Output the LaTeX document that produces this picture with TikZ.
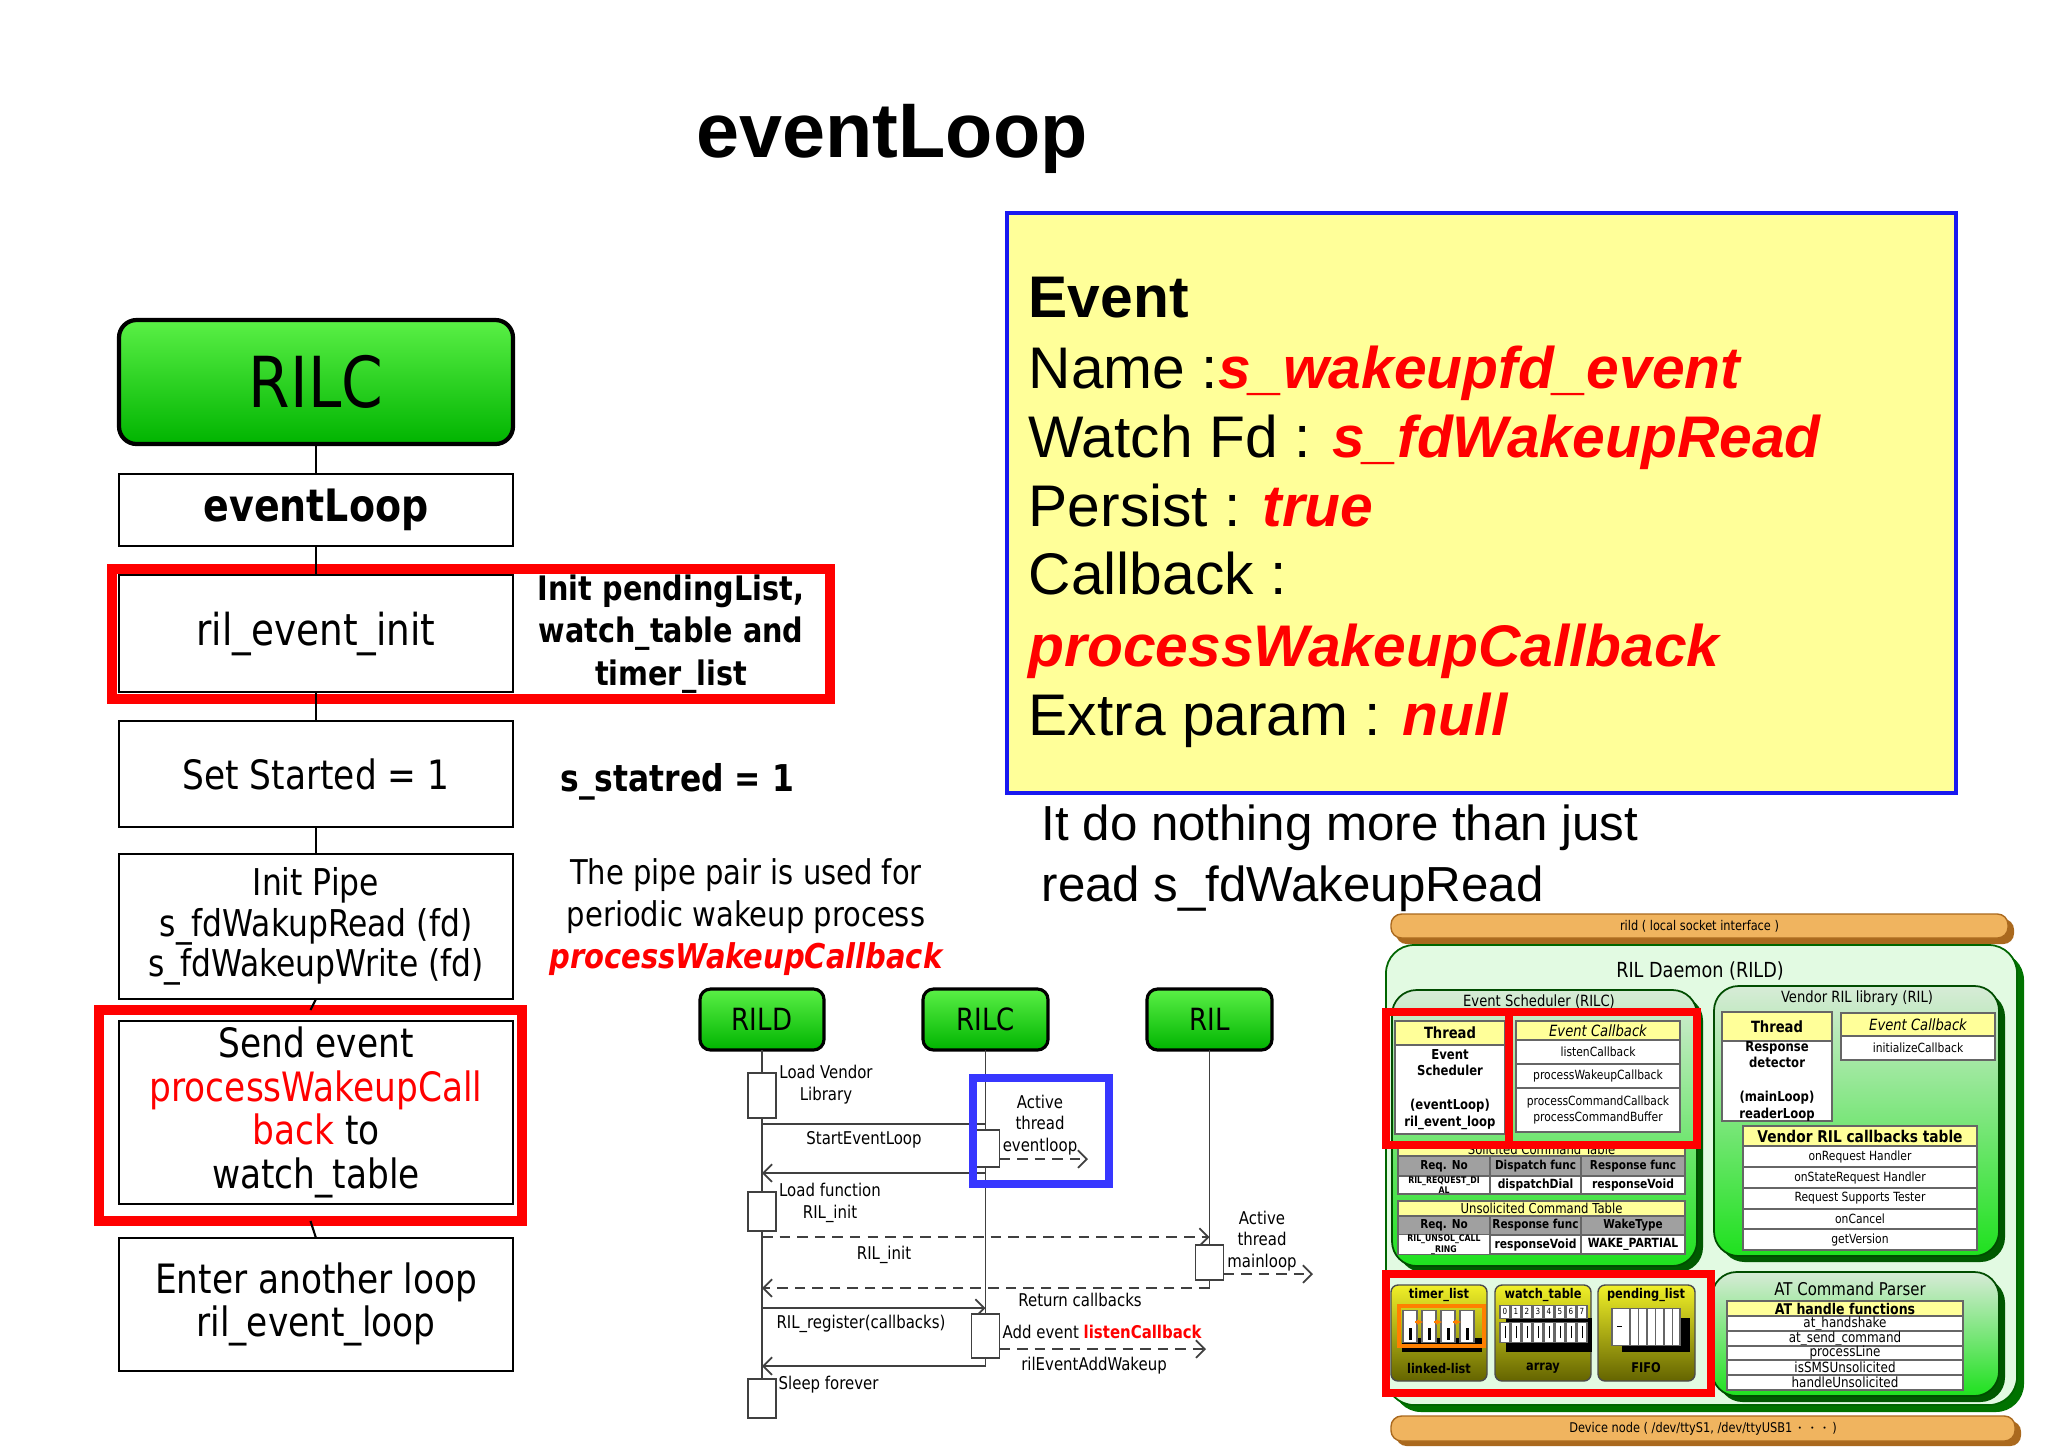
\documentclass[tikz,border=0pt]{standalone}
\usepackage{fontspec}
\setmainfont{DejaVu Sans}
\newfontfamily\cond[FakeStretch=0.85]{DejaVu Sans}
\newfontfamily\arial{Liberation Sans}
\usetikzlibrary{arrows.meta}
\newcommand\sz[2]{\fontsize{#1pt}{#2pt}\selectfont}
\newcommand\rb[1]{{\color{red}\bfseries\itshape #1}}
\definecolor{evyellow}{RGB}{255,255,153}
\definecolor{evblue}{RGB}{25,25,240}
\definecolor{seqblue}{RGB}{55,55,255}
\definecolor{gtop}{RGB}{90,240,70}
\definecolor{gbot}{RGB}{0,180,0}
\definecolor{cellyellow}{RGB}{255,255,153}
\definecolor{cellgray}{RGB}{160,160,160}
\definecolor{barorange}{RGB}{240,180,95}
\definecolor{bardark}{RGB}{170,105,30}
\definecolor{paleg}{RGB}{226,250,226}
\definecolor{boxtop}{RGB}{215,235,215}
\definecolor{boxbot}{RGB}{30,225,30}
\definecolor{oltop}{RGB}{240,240,40}
\definecolor{olbot}{RGB}{100,100,0}
\newcommand\bx[7][]{\pgfmathsetmacro\bxw{(#5-#3)*0.01}\pgfmathsetmacro\bxh{(#6-#4)*0.01}%
\node[inner sep=0pt,outer sep=0pt,minimum width=\bxw cm,minimum height=\bxh cm,#1] (#2) at ({(#3+#5)/2},{(#4+#6)/2}) {#7};}
\begin{document}
\begin{tikzpicture}[x=0.01cm,y=-0.01cm,
  rilcbox/.style={draw=black,line width=1.2pt,rounded corners=5pt,top color=gtop,bottom color=gbot,font=\cond\sz{20}{24}},
  lbox/.style={draw=black,line width=0.6pt,fill=white,align=center,font=\cond\sz{11.5}{12.4}},
  redbox/.style={draw=red,line width=2.8pt},
  evbox/.style={draw=evblue,line width=1.4pt,fill=evyellow},
  evtext/.style={anchor=base west,inner sep=0pt,font=\arial\sz{16.7}{20}},
  hdr/.style={draw=black,line width=0.9pt,rounded corners=3pt,top color=gtop,bottom color=gbot,font=\cond\sz{8.7}{10}},
  life/.style={draw=black!75,line width=0.45pt},
  act/.style={draw=black!75,fill=white,line width=0.45pt},
  msg/.style={draw=black!75,line width=0.5pt},
  barb/.style={-{Straight Barb[length=2.5pt,width=5pt]}},
  dsh/.style={dash pattern=on 3pt off 2pt},
  slab/.style={font=\cond\sz{5}{6.2},align=center,inner sep=0pt},
  bar/.style={rounded corners=3pt,fill=barorange,draw=bardark,line width=0.4pt,font=\cond\sz{3.8}{4.5}},
  bigbox/.style={rounded corners=8pt,fill=paleg,draw=green!40!black,line width=0.5pt},
  ibox/.style={rounded corners=7pt,top color=boxtop,bottom color=boxbot,draw=green!30!black,line width=0.5pt},
  cell/.style={draw=black!60,fill=white,line width=0.35pt,align=center,font=\cond\sz{3.6}{4.3}},
  hcell/.style={cell,fill=cellyellow,font=\cond\bfseries\sz{4.4}{5}},
  gcell/.style={cell,fill=cellgray,font=\cond\bfseries\sz{3.5}{4}},
  store/.style={top color=oltop,bottom color=olbot,draw=black!70,rounded corners=2pt,line width=0.4pt},
  archred/.style={draw=red,line width=2.3pt}]
\useasboundingbox (0,0) rectangle (2048,1447);
\fill[white] (0,0) rectangle (2048,1447);

% title
\node[font=\arial\bfseries\sz{22}{26},anchor=base,inner sep=0pt] (title) at (892,157) {eventLoop};

% left column
\bx[rilcbox]{rilc}{119}{320}{513}{444}{RILC}
\bx[lbox,font=\cond\bfseries\sz{12.7}{14}]{evl}{119}{474}{513}{546}{eventLoop}
\bx[lbox,font=\cond\sz{12.5}{14}]{init}{119}{575}{513}{692}{ril\_event\_init}
\node[font=\cond\bfseries\sz{9.6}{12},align=center] (initnote) at (671,634) {Init pendingList,\\watch\_table and\\timer\_list};
\bx[redbox]{redA}{112}{569}{830}{699}{}
\bx[lbox]{set}{119}{721}{513}{827}{Set Started = 1}
\node[font=\cond\bfseries\sz{10.5}{13},anchor=west] (statred) at (548,782) {s\_statred = 1};
\bx[lbox,font=\cond\sz{10.5}{11.5}]{pipe}{119}{854}{513}{999}{Init Pipe\\s\_fdWakupRead (fd)\\s\_fdWakeupWrite (fd)}
\node[font=\cond\sz{9.7}{12},align=center] (pipenote) at (746,917) {The pipe pair is used for\\periodic wakeup process\\{\color{red}\bfseries\itshape processWakeupCallback}};
\bx[lbox]{send}{119}{1021}{513}{1204}{Send event\\{\color{red}processWakeupCall}\\{\color{red}back} to\\watch\_table}
\bx[redbox]{redB}{99}{1010}{522}{1221}{}
\bx[lbox]{enter}{119}{1238}{513}{1371}{Enter another loop\\ril\_event\_loop}
\draw[line width=0.6pt] (rilc.south) -- (evl.north);
\draw[line width=0.6pt] (evl.south) -- (init.north);
\draw[line width=0.6pt] (init.south) -- (set.north);
\draw[line width=0.6pt] (set.south) -- (pipe.north);
\draw[line width=0.6pt] (pipe.south) -- (redB.north);
\draw[line width=0.6pt] (redB.south) -- (enter.north);

% event box
\bx[evbox]{ev}{1007}{213}{1956}{793}{}
\node[evtext] (ev1) at (1028,317) {\bfseries Event};
\node[evtext] (ev2) at (1028,388) {Name :\rb{s\_wakeupfd\_event}};
\node[evtext] (ev3) at (1028,457) {Watch Fd : \rb{s\_fdWakeupRead}};
\node[evtext] (ev4) at (1028,526) {Persist : \rb{true}};
\node[evtext] (ev5) at (1028,594) {Callback :};
\node[evtext] (ev6) at (1028,666) {\rb{processWakeupCallback}};
\node[evtext] (ev7) at (1028,735) {Extra param : \rb{null}};
\node[anchor=base west,inner sep=0pt,font=\arial\sz{14}{17}] (note1) at (1041,840) {It do nothing more than just};
\node[anchor=base west,inner sep=0pt,font=\arial\sz{14}{17}] (note2) at (1041,901) {read s\_fdWakeupRead};

% sequence diagram
\bx[hdr]{sD}{700}{989}{824}{1050}{RILD}
\bx[hdr]{sC}{923}{989}{1048}{1050}{RILC}
\bx[hdr]{sL}{1147}{989}{1272}{1050}{RIL}
\coordinate (eD) at (762,1379);
\coordinate (eC) at (985.5,1366);
\coordinate (eL) at (1209.5,1288);
\draw[life] (sD.south) -- (eD);
\draw[life] (sC.south) -- (eC);
\draw[life] (sL.south) -- (eL);
\coordinate (m1a) at (762,1124); \coordinate (m1b) at (985.5,1124);
\coordinate (r1a) at (985.5,1173); \coordinate (r1b) at (762,1173);
\coordinate (m2a) at (762,1237); \coordinate (m2b) at (1209.5,1237);
\coordinate (r2a) at (1209.5,1288); \coordinate (r2b) at (762,1288);
\coordinate (m3a) at (762,1308); \coordinate (m3b) at (985.5,1308);
\coordinate (r3a) at (985.5,1366); \coordinate (r3b) at (762,1366);
\coordinate (o1a) at (999.5,1159); \coordinate (o1b) at (1088,1159);
\coordinate (o2a) at (1223.5,1274); \coordinate (o2b) at (1313,1274);
\coordinate (o3a) at (999.5,1349); \coordinate (o3b) at (1206,1349);
\draw[msg] (m1a) -- (m1b);
\draw[msg,barb] (r1a) -- (r1b);
\draw[msg,barb,dsh] (m2a) -- (m2b);
\draw[msg,barb,dsh] (r2a) -- (r2b);
\draw[msg,barb] (m3a) -- (m3b);
\draw[msg,barb] (r3a) -- (r3b);
\bx[act]{aD1}{748}{1073}{776}{1118}{}
\bx[act]{aD2}{748}{1192}{776}{1231}{}
\bx[act]{aD3}{748}{1379}{776}{1418}{}
\bx[act]{aC1}{971.5}{1130}{999.5}{1167}{}
\bx[act]{aC2}{971.5}{1314}{999.5}{1358}{}
\bx[act]{aL1}{1195.5}{1245}{1223.5}{1280}{}
\draw[msg,barb,dsh] (o1a) -- (o1b);
\draw[msg,barb,dsh] (o2a) -- (o2b);
\draw[msg,barb,dsh] (o3a) -- (o3b);
\bx[draw=seqblue,line width=2.3pt]{blueA}{973}{1078}{1109}{1184}{}
\node[slab] (t1) at (826,1085) {Load Vendor\\Library};
\node[slab] (t2) at (864,1140) {StartEventLoop};
\node[slab] (t3) at (1040,1125) {Active\\thread\\eventloop};
\node[slab] (t4) at (830,1203) {Load function\\RIL\_init};
\node[slab] (t5) at (884,1255) {RIL\_init};
\node[slab] (t6) at (1262,1241) {Active\\thread\\mainloop};
\node[slab] (t7) at (1080,1300) {Return callbacks};
\node[slab] (t8) at (861,1324) {RIL\_register(callbacks)};
\node[slab,anchor=west] (t9) at (1002,1332) {Add event {\color{red}\bfseries listenCallback}};
\node[slab] (t10) at (1094,1366) {rilEventAddWakeup};
\node[slab,anchor=west] (t11) at (778,1385) {Sleep forever};

% architecture figure
\fill[bardark,rounded corners=3pt] (1396,919) rectangle (2014,944);
\bx[bar]{topbar}{1391}{914}{2008}{938}{rild ( local socket interface )}
\fill[green!45!black,rounded corners=8pt] (1393,952) rectangle (2024,1412);
\bx[bigbox]{rild}{1386}{945}{2017}{1405}{}
\node[font=\cond\sz{5.9}{7}] (rildt) at (1700,971) {RIL Daemon (RILD)};
% event scheduler
\fill[green!35!black,rounded corners=7pt] (1398,996) rectangle (1703,1272);
\bx[ibox]{es}{1392}{990}{1697}{1266}{}
\node[font=\cond\sz{4.4}{5}] (est) at (1539,1002) {Event Scheduler (RILC)};
\bx[hcell]{th1}{1395}{1021}{1505}{1045}{Thread}
\bx[cell,font=\cond\bfseries\sz{3.9}{4.7}]{th1b}{1395}{1045}{1505}{1134}{Event\\Scheduler\\[5pt](eventLoop)\\ril\_event\_loop}
\bx[hcell,font=\cond\itshape\sz{4.4}{5}]{ec1}{1516}{1021}{1680}{1040}{Event Callback}
\bx[cell]{ec1a}{1516}{1040}{1680}{1064}{listenCallback}
\bx[cell]{ec1b}{1516}{1064}{1680}{1088}{processWakeupCallback}
\bx[cell]{ec1c}{1516}{1088}{1680}{1132}{processCommandCallback\\processCommandBuffer}
\bx[hcell,font=\cond\sz{3.9}{4.5}]{sol}{1398}{1143}{1685}{1156}{Solicited Command Table}
\bx[gcell]{sol1}{1398}{1156}{1490}{1176}{Req. No}
\bx[gcell]{sol2}{1490}{1156}{1581}{1176}{Dispatch func}
\bx[gcell]{sol3}{1581}{1156}{1685}{1176}{Response func}
\bx[cell,font=\cond\bfseries\sz{2.6}{3}]{sol4}{1398}{1176}{1490}{1194}{RIL\_REQUEST\_DI\\AL}
\bx[cell,font=\cond\bfseries\sz{3.6}{4}]{sol5}{1490}{1176}{1581}{1194}{dispatchDial}
\bx[cell,font=\cond\bfseries\sz{3.6}{4}]{sol6}{1581}{1176}{1685}{1194}{responseVoid}
\bx[hcell,font=\cond\sz{3.9}{4.5}]{uns}{1398}{1201}{1685}{1216}{Unsolicited Command Table}
\bx[gcell]{uns1}{1398}{1216}{1490}{1235}{Req. No}
\bx[gcell]{uns2}{1490}{1216}{1581}{1235}{Response func}
\bx[gcell]{uns3}{1581}{1216}{1685}{1235}{WakeType}
\bx[cell,font=\cond\bfseries\sz{2.6}{3}]{uns4}{1398}{1235}{1490}{1254}{RIL\_UNSOL\_CALL\\\_RING}
\bx[cell,font=\cond\bfseries\sz{3.6}{4}]{uns5}{1490}{1235}{1581}{1254}{responseVoid}
\bx[cell,font=\cond\bfseries\sz{3.6}{4}]{uns6}{1581}{1235}{1685}{1254}{WAKE\_PARTIAL}
% vendor ril
\fill[green!35!black,rounded corners=7pt] (1720,992) rectangle (2005,1262);
\bx[ibox]{vr}{1714}{986}{1999}{1256}{}
\node[font=\cond\sz{4.4}{5}] (vrt) at (1857,998) {Vendor RIL library (RIL)};
\bx[hcell]{th2}{1722}{1012}{1832}{1041}{Thread}
\bx[cell,font=\cond\bfseries\sz{3.9}{4.7}]{th2b}{1722}{1041}{1832}{1121}{Response\\detector\\[5pt](mainLoop)\\readerLoop}
\bx[hcell,font=\cond\itshape\sz{4.4}{5}]{ec2}{1841}{1013}{1995}{1036}{Event Callback}
\bx[cell]{ec2a}{1841}{1036}{1995}{1060}{initializeCallback}
\bx[hcell,font=\cond\bfseries\sz{4.6}{5}]{cbt}{1743}{1126}{1977}{1146}{Vendor RIL callbacks table}
\bx[cell]{cb1}{1743}{1146}{1977}{1167}{onRequest Handler}
\bx[cell]{cb2}{1743}{1167}{1977}{1188}{onStateRequest Handler}
\bx[cell]{cb3}{1743}{1188}{1977}{1209}{Request Supports Tester}
\bx[cell]{cb4}{1743}{1209}{1977}{1229}{onCancel}
\bx[cell]{cb5}{1743}{1229}{1977}{1250}{getVersion}
% AT parser
\fill[green!35!black,rounded corners=7pt] (1718,1278) rectangle (2005,1402);
\bx[ibox]{at}{1712}{1272}{1999}{1396}{}
\node[font=\cond\sz{5}{6}] (att) at (1850,1289) {AT Command Parser};
\bx[hcell,font=\cond\bfseries\sz{4.2}{5}]{ath}{1727}{1301}{1963}{1316}{AT handle functions}
\bx[cell,font=\cond\sz{4}{4.5}]{at1}{1727}{1316}{1963}{1331}{at\_handshake}
\bx[cell,font=\cond\sz{4}{4.5}]{at2}{1727}{1331}{1963}{1346}{at\_send\_command}
\bx[cell,font=\cond\sz{4}{4.5}]{at3}{1727}{1346}{1963}{1360}{processLine}
\bx[cell,font=\cond\sz{4}{4.5}]{at4}{1727}{1360}{1963}{1375}{isSMSUnsolicited}
\bx[cell,font=\cond\sz{4}{4.5}]{at5}{1727}{1375}{1963}{1390}{handleUnsolicited}
% storages
\bx[store]{st1}{1391}{1285}{1487}{1381}{}
\bx[store]{st2}{1495}{1285}{1591}{1381}{}
\bx[store]{st3}{1598}{1285}{1695}{1381}{}
\node[font=\cond\bfseries\sz{3.8}{4.5}] (st1h) at (1439,1295) {timer\_list};
\node[font=\cond\bfseries\sz{3.8}{4.5}] (st2h) at (1543,1295) {watch\_table};
\node[font=\cond\bfseries\sz{3.8}{4.5}] (st3h) at (1646,1295) {pending\_list};
\node[font=\cond\bfseries\sz{3.8}{4.5}] (st1f) at (1439,1368) {linked-list};
\node[font=\cond\bfseries\sz{3.8}{4.5}] (st2f) at (1543,1368) {array};
\node[font=\cond\bfseries\sz{3.8}{4.5}] (st3f) at (1646,1368) {FIFO};
\fill[black] (1402,1338) rectangle (1482,1352);
\foreach \i in {0,1,2,3}{
  \draw[fill=white,draw=black!60,line width=0.3pt] (1403+19*\i,1310) rectangle (1417+19*\i,1342);
  \fill[black] (1409+19*\i,1328) rectangle (1412+19*\i,1340);}
\draw[orange,line width=0.9pt] (1399,1306) rectangle (1484,1346);
\foreach \i in {0,1,2}{\draw[orange,line width=0.8pt,-{Latex[length=2pt]}] (1415+19*\i,1322) -- (1424+19*\i,1322);}
\fill[black] (1506,1318) rectangle (1592,1352);
\foreach \i in {0,...,7}{
  \draw[fill=white,draw=black!60,line width=0.3pt] (1500+11*\i,1305) rectangle (1510+11*\i,1318);
  \node[font=\cond\sz{2.4}{3},inner sep=0pt] at (1505+11*\i,1311.5) {\i};
  \draw[fill=white,draw=black!60,line width=0.3pt] (1500+11*\i,1322) rectangle (1510+11*\i,1342);
  \fill[black] (1504.5+11*\i,1326) rectangle (1506+11*\i,1338);}
\fill[black] (1622,1318) rectangle (1690,1352);
\draw[fill=white,draw=black!60,line width=0.3pt] (1612,1308) rectangle (1680,1345);
\foreach \i in {0,...,5}{\draw[black!60,line width=0.3pt] (1630+8.5*\i,1308) -- (1630+8.5*\i,1345);}
\draw[line width=0.3pt] (1617,1326) -- (1622,1326);
% red highlights
\bx[archred]{redC}{1386}{1012}{1509}{1145}{}
\bx[archred]{redD}{1509}{1012}{1697}{1145}{}
\bx[archred]{redE}{1386}{1274}{1711}{1393}{}
% bottom bar
\fill[bardark,rounded corners=3pt] (1396,1421) rectangle (2021,1446);
\bx[bar]{botbar}{1391}{1416}{2015}{1441}{Device node ( /dev/ttyS1, /dev/ttyUSB1 $\cdots$ )}
\end{tikzpicture}
\end{document}
